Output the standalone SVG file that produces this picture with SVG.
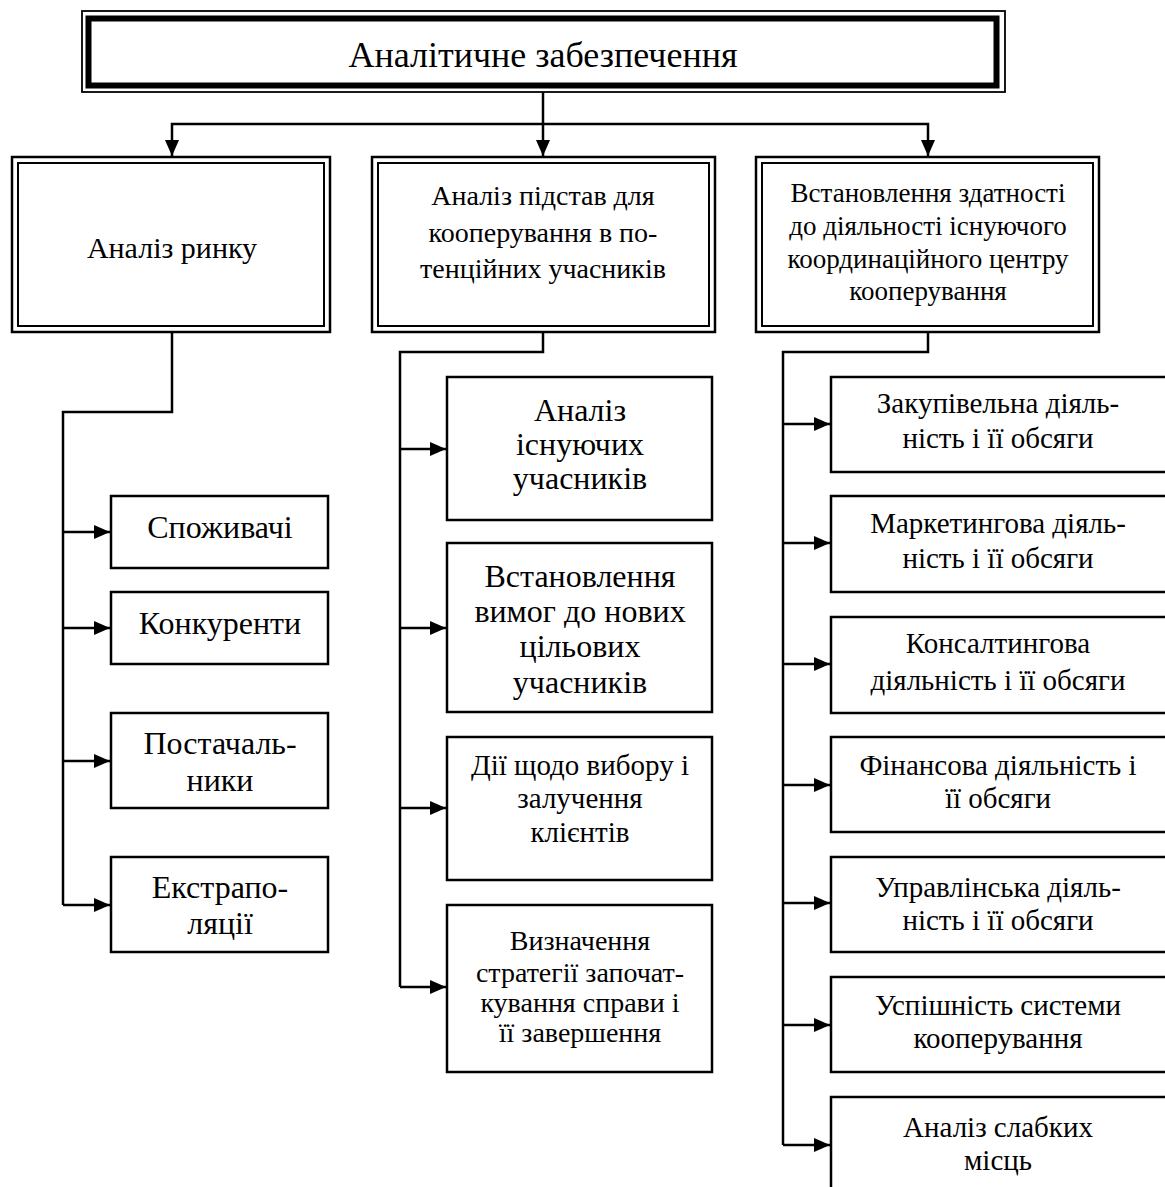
<svg xmlns="http://www.w3.org/2000/svg" width="1165" height="1187" viewBox="0 0 1165 1187">
<style>
.box{fill:#fff;stroke:#000;stroke-width:2.5}
.thin{fill:none;stroke:#000;stroke-width:2}
.conn{fill:none;stroke:#000;stroke-width:2.5}
text{fill:#000;text-anchor:middle}
.t32{font-size:32px}
.t30{font-size:30px}
.t29{font-size:29px}
.t28{font-size:28px}
.t27{font-size:27px}
</style>
<defs>
<marker id="arr" markerUnits="userSpaceOnUse" markerWidth="16" markerHeight="14" refX="16" refY="7" orient="auto">
<path d="M0,0 L16,7 L0,14 z" fill="#000"/>
</marker>
</defs>
<rect width="1165" height="1187" fill="#fff"/>

<g id="connectors">
<path class="conn" d="M543,92 V156" marker-end="url(#arr)"/>
<path class="conn" d="M543,124 H172 V156" marker-end="url(#arr)"/>
<path class="conn" d="M543,124 H928 V156" marker-end="url(#arr)"/>
<path class="conn" d="M172,332 V412 H63 V905"/>
<path class="conn" d="M63,532 H110" marker-end="url(#arr)"/>
<path class="conn" d="M63,628 H110" marker-end="url(#arr)"/>
<path class="conn" d="M63,761 H110" marker-end="url(#arr)"/>
<path class="conn" d="M63,905 H110" marker-end="url(#arr)"/>
<path class="conn" d="M543,332 V352 H400 V987"/>
<path class="conn" d="M400,449 H446" marker-end="url(#arr)"/>
<path class="conn" d="M400,628 H446" marker-end="url(#arr)"/>
<path class="conn" d="M400,808 H446" marker-end="url(#arr)"/>
<path class="conn" d="M400,987 H446" marker-end="url(#arr)"/>
<path class="conn" d="M928,332 V352 H783 V1145"/>
<path class="conn" d="M783,424 H830" marker-end="url(#arr)"/>
<path class="conn" d="M783,543 H830" marker-end="url(#arr)"/>
<path class="conn" d="M783,664 H830" marker-end="url(#arr)"/>
<path class="conn" d="M783,785 H830" marker-end="url(#arr)"/>
<path class="conn" d="M783,903 H830" marker-end="url(#arr)"/>
<path class="conn" d="M783,1025 H830" marker-end="url(#arr)"/>
<path class="conn" d="M783,1145 H830" marker-end="url(#arr)"/>
</g>

<g font-family="Liberation Serif, Times New Roman, Tinos, DejaVu Serif, serif">
<g id="root">
<rect x="82" y="11" width="923" height="81" fill="#fff" stroke="#000" stroke-width="1.8"/>
<rect x="88.5" y="18.5" width="908" height="67" fill="#fff" stroke="#000" stroke-width="6"/>
<text x="543" y="67" font-size="36">Аналітичне забезпечення</text>
</g>

<g id="market">
<rect class="box" x="12" y="157" width="318" height="175" stroke-width="2"/>
<rect class="thin" x="18" y="163" width="306" height="163"/>
<text class="t30" x="172" y="258">Аналіз ринку</text>
</g>
<g id="coop">
<rect class="box" x="372" y="157" width="343" height="175" stroke-width="2"/>
<rect class="thin" x="378" y="163" width="331" height="163"/>
<text class="t28" x="543" y="205">Аналіз підстав для</text>
<text class="t28" x="543" y="242">кооперування в по-</text>
<text class="t28" x="543" y="278">тенційних учасників</text>
</g>
<g id="center">
<rect class="box" x="756" y="157" width="343" height="175" stroke-width="2"/>
<rect class="thin" x="762" y="163" width="331" height="163"/>
<text class="t27" x="928" y="202">Встановлення здатності</text>
<text class="t27" x="928" y="235">до діяльності існуючого</text>
<text class="t27" x="928" y="268">координаційного центру</text>
<text class="t27" x="928" y="300">кооперування</text>
</g>

<g id="consumers"><rect class="box" x="111" y="496" width="217" height="72"/><text class="t32" x="220" y="538">Споживачі</text></g>
<g id="competitors"><rect class="box" x="111" y="592" width="217" height="72"/><text class="t32" x="220" y="634">Конкуренти</text></g>
<g id="suppliers"><rect class="box" x="111" y="713" width="217" height="95"/><text class="t32" x="220" y="754">Постачаль-</text><text class="t32" x="220" y="791">ники</text></g>
<g id="extrapolation"><rect class="box" x="111" y="857" width="217" height="95"/><text class="t32" x="220" y="898">Екстрапо-</text><text class="t32" x="220" y="934">ляції</text></g>

<g id="existing"><rect class="box" x="447" y="377" width="265" height="143"/>
<text class="t32" x="580" y="421">Аналіз</text><text class="t32" x="580" y="455">існуючих</text><text class="t32" x="580" y="489">учасників</text></g>
<g id="requirements"><rect class="box" x="447" y="543" width="265" height="169"/>
<text class="t32" x="580" y="587">Встановлення</text><text class="t32" x="580" y="622">вимог до нових</text><text class="t32" x="580" y="657">цільових</text><text class="t32" x="580" y="693">учасників</text></g>
<g id="actions"><rect class="box" x="447" y="737" width="265" height="143"/>
<text class="t29" x="580" y="775">Дії щодо вибору і</text><text class="t29" x="580" y="808">залучення</text><text class="t29" x="580" y="842">клієнтів</text></g>
<g id="strategy"><rect class="box" x="447" y="905" width="265" height="167"/>
<text class="t28" x="580" y="950">Визначення</text><text class="t28" x="580" y="982">стратегії започат-</text><text class="t28" x="580" y="1012">кування справи і</text><text class="t28" x="580" y="1042">її завершення</text></g>

<g id="purchasing"><rect class="box" x="831" y="377" width="340" height="95"/>
<text class="t29" x="998" y="413">Закупівельна діяль-</text><text class="t29" x="998" y="448">ність і її обсяги</text></g>
<g id="marketing"><rect class="box" x="831" y="496" width="340" height="96"/>
<text class="t29" x="998" y="533">Маркетингова діяль-</text><text class="t29" x="998" y="568">ність і її обсяги</text></g>
<g id="consulting"><rect class="box" x="831" y="617" width="340" height="96"/>
<text class="t29" x="998" y="653">Консалтингова</text><text class="t29" x="998" y="690">діяльність і її обсяги</text></g>
<g id="finance"><rect class="box" x="831" y="737" width="340" height="95"/>
<text class="t29" x="998" y="775">Фінансова діяльність і</text><text class="t29" x="998" y="808">її обсяги</text></g>
<g id="management"><rect class="box" x="831" y="857" width="340" height="95"/>
<text class="t29" x="998" y="897">Управлінська діяль-</text><text class="t29" x="998" y="930">ність і її обсяги</text></g>
<g id="success"><rect class="box" x="831" y="977" width="340" height="95"/>
<text class="t29" x="998" y="1015">Успішність системи</text><text class="t29" x="998" y="1048">кооперування</text></g>
<g id="weakness"><rect class="box" x="831" y="1097" width="340" height="100"/>
<text class="t29" x="998" y="1137">Аналіз слабких</text><text class="t29" x="998" y="1170">місць</text></g>
</g>
</svg>
